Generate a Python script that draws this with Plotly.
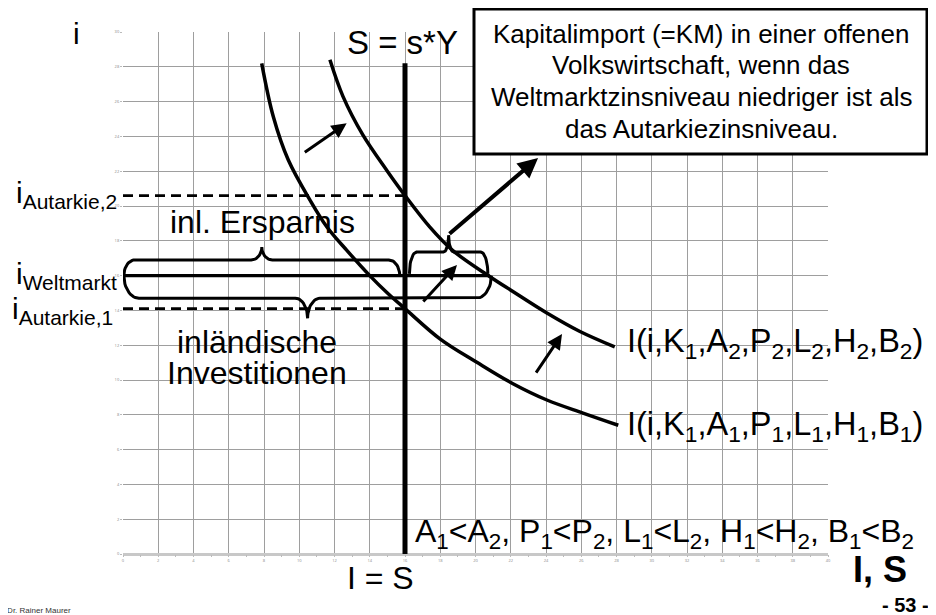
import numpy as np
import plotly.graph_objects as go

# ---------------- data ----------------
x_ticks = list(range(0, 41, 2))
y_ticks = list(range(0, 31, 2))

# investment curve I(i,K1,A1,...)
I1_x = [7.87, 8.53, 9.38, 10.61, 11.56, 12.7, 14.0, 15.0, 16.0, 18.0, 20.1, 22.1, 24.05, 26.1, 28.1]
I1_y = [28.2, 25.13, 22.64, 20.34, 18.81, 17.45, 16.0, 15.0, 14.1, 12.35, 11.0, 9.8, 8.85, 8.1, 7.4]
# investment curve I(i,K1,A2,...)
I2_x = [11.74, 12.48, 13.6, 15.0, 16.0, 17.4, 18.7, 20.8, 22.1, 24.05, 25.9, 27.9]
I2_y = [28.4, 26.3, 24.1, 22.0, 20.6, 18.8, 17.45, 15.95, 15.1, 13.85, 12.8, 11.9]

S_level = 16.0          # S = s*Y (vertical)
S_top = 28.2
i_autarkie_1 = 14.1
i_autarkie_2 = 20.6
i_weltmarkt = 16.0
I2_at_weltmarkt = 20.8

# braces: (x0, x1, y_base, d1, d2, rx_end, rx_tip, direction)
braces = [
    (0.05, 15.7, 16.0, 0.9, 0.74, 0.62, 0.6, 1),     # inl. Ersparnis
    (0.05, 20.9, 16.0, 1.3, 1.15, 0.85, 0.7, -1),    # inlaendische Investitionen
    (16.25, 20.7, 16.1, 1.25, 0.97, 0.4, 0.3, 1),    # KM
]

# arrows: (tail_x, tail_y, head_x, head_y, width)
arrows = [
    (10.23, 23.03, 12.69, 24.75, 3),
    (16.96, 14.43, 18.95, 16.61, 3),
    (23.38, 10.34, 24.91, 12.64, 3),
    (18.44, 18.33, 23.55, 22.76, 4),
]

# ---------------- layout helpers ----------------
# The page body adds an 8px offset; screen coordinates are used below.
OFF = 8
W, H = 936 - OFF, 615 - OFF
PX0, PX1, PY0, PY1 = 123, 828, 32, 554      # plot area in screen pixels
L, R, T, B = PX0 - OFF, W - (PX1 - OFF), PY0 - OFF, H - (PY1 - OFF)
XMAX, YMAX = 40, 30


def paper_x(sx):
    return (sx - PX0) / (PX1 - PX0)


def paper_y(sy):
    return (PY1 - sy) / (PY1 - PY0)


def brace_points(x0, x1, y0, d1, d2, rxe, rxt, sgn, n=14):
    xm = (x0 + x1) / 2
    t = np.linspace(0, np.pi / 2, n)
    xa = x0 + rxe - rxe * np.cos(t)
    ya = y0 + sgn * d1 * np.sin(t)
    xb = xm - rxt + rxt * np.sin(t)
    yb = y0 + sgn * (d1 + d2) - sgn * d2 * np.cos(t)
    lx = np.concatenate([xa, xb])
    ly = np.concatenate([ya, yb])
    rx = (x0 + x1) - lx[::-1]
    ry = ly[::-1]
    return np.concatenate([lx, rx]), np.concatenate([ly, ry])


fig = go.Figure()

# curves
fig.add_trace(go.Scatter(x=I1_x, y=I1_y, mode="lines",
                         line=dict(color="black", width=3.5, shape="spline")))
fig.add_trace(go.Scatter(x=I2_x, y=I2_y, mode="lines",
                         line=dict(color="black", width=3.5, shape="spline")))
# dashed autarky levels
for lev in (i_autarkie_2, i_autarkie_1):
    fig.add_trace(go.Scatter(x=[0, S_level], y=[lev, lev], mode="lines",
                             line=dict(color="black", width=2.7, dash="10px,6px")))
# world market rate
fig.add_trace(go.Scatter(x=[0, I2_at_weltmarkt], y=[i_weltmarkt, i_weltmarkt], mode="lines",
                         line=dict(color="black", width=3.2)))
# braces
for b in braces:
    bx, by = brace_points(*b)
    fig.add_trace(go.Scatter(x=bx, y=by, mode="lines",
                             line=dict(color="black", width=3)))
# savings line
fig.add_trace(go.Scatter(x=[S_level, S_level], y=[0, S_top], mode="lines",
                         line=dict(color="black", width=5)))

ann = []
for tx, ty, hx, hy, w in arrows:
    ann.append(dict(x=hx, y=hy, ax=tx, ay=ty, xref="x", yref="y", axref="x", ayref="y",
                    showarrow=True, arrowhead=2, arrowsize=1, arrowwidth=w,
                    arrowcolor="black", text=""))


def txt(text, sx, sy, size, xanchor="center", bold=False, color="black"):
    ann.append(dict(x=paper_x(sx), y=paper_y(sy), xref="paper", yref="paper", text=text,
                    showarrow=False, xanchor=xanchor, yanchor="middle",
                    font=dict(size=size, color=color,
                              family="Liberation Sans, Arial, sans-serif",
                              weight=700 if bold else 400)))


txt("i", 76, 33, 30)
txt("S = s*Y", 345, 42, 33, "left")
box_lines = ["Kapitalimport (=KM) in einer offenen",
             "Volkswirtschaft, wenn das",
             "Weltmarktzinsniveau niedriger ist als",
             "das Autarkiezinsniveau."]
for s, yy in zip(box_lines, [33.5, 65, 97, 128.5]):
    txt(s, 701, yy, 26)
txt("i<sub>Autarkie,2</sub>", 119, 195, 30, "right")
txt("i<sub>Weltmarkt</sub>", 119, 275, 30, "right")
txt("i<sub>Autarkie,1</sub>", 115, 310, 30, "right")
txt("inl. Ersparnis", 262, 222, 32)
txt("inländische", 257, 342, 32)
txt("Investitionen", 257, 373, 32)
txt("I(i,K<sub>1</sub>,A<sub>2</sub>,P<sub>2</sub>,L<sub>2</sub>,H<sub>2</sub>,B<sub>2</sub>)",
    625, 344, 32.5, "left")
txt("I(i,K<sub>1</sub>,A<sub>1</sub>,P<sub>1</sub>,L<sub>1</sub>,H<sub>1</sub>,B<sub>1</sub>)",
    625, 426, 32.5, "left")
txt("A<sub>1</sub>&lt;A<sub>2</sub>, P<sub>1</sub>&lt;P<sub>2</sub>, L<sub>1</sub>&lt;L<sub>2</sub>, "
    "H<sub>1</sub>&lt;H<sub>2</sub>, B<sub>1</sub>&lt;B<sub>2</sub>", 413, 533, 32, "left")
txt("I = S", 380, 578, 32)
txt("I, S", 880, 569, 36, bold=True)
txt("- 53 -", 931, 605, 20, "right", bold=True)
txt("Prof. Dr. Rainer Maurer", 73, 610, 8, "right", color="#333333")

shapes = [dict(type="rect", xref="paper", yref="paper",
               x0=paper_x(474), x1=paper_x(927), y0=paper_y(154), y1=paper_y(9),
               line=dict(color="black", width=3), fillcolor="white", layer="above")]

fig.update_layout(
    width=W, height=H, margin=dict(l=L, r=R, t=T, b=B, pad=0),
    paper_bgcolor="white", plot_bgcolor="white", showlegend=False,
    annotations=ann, shapes=shapes,
    xaxis=dict(range=[0, XMAX], tickmode="array", tickvals=x_ticks,
               showgrid=True, gridcolor="#9e9e9e", gridwidth=1,
               zeroline=True, zerolinecolor="rgba(0,0,0,0)", showline=False,
               ticks="outside", ticklen=2, tickcolor="#bbbbbb",
               tickfont=dict(size=4, color="#888888"),
               minor=dict(ticks="outside", ticklen=2, tickcolor="#bbbbbb",
                          tickvals=list(range(1, 40, 2)), showgrid=False),
               fixedrange=True),
    yaxis=dict(range=[0, YMAX], tickmode="array", tickvals=y_ticks,
               showgrid=True, gridcolor="#9e9e9e", gridwidth=1,
               zeroline=True, zerolinecolor="#c8c8c8", zerolinewidth=2.5,
               showline=False, ticks="outside", ticklen=2, tickcolor="#bbbbbb",
               tickfont=dict(size=4, color="#888888"), fixedrange=True),
)

fig.write_html("out.html")
